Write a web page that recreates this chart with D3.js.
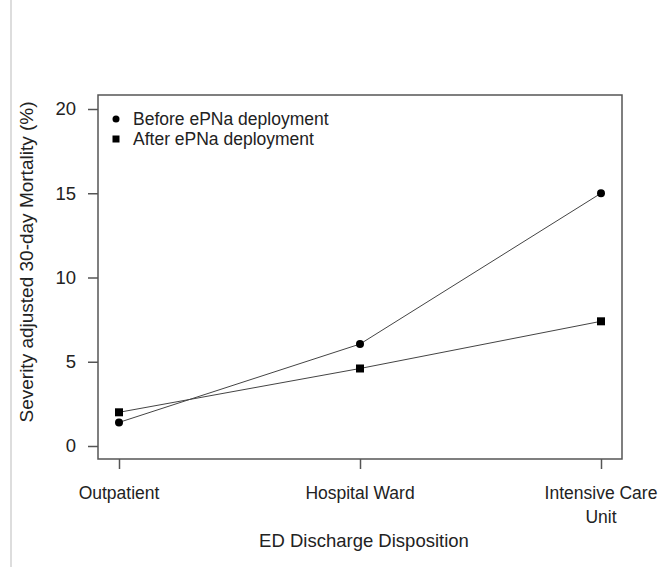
<!DOCTYPE html>
<html>
<head>
<meta charset="utf-8">
<script src="https://cdn.jsdelivr.net/npm/d3@7"></script>
<style>
  body { margin: 0; background: #fff; }
  text { font-family: "Liberation Sans", Arial, sans-serif; fill: #222; }
</style>
</head>
<body>
<svg width="658" height="567"></svg>
<script>
var categories = ["Outpatient", "Hospital Ward", "Intensive Care|Unit"]
var beforeValues = [1.4, 6.05, 15.0]
var afterValues = [2.0, 4.6, 7.4]
var yTicks = [0, 5, 10, 15, 20]
var legendLabels = ["Before ePNa deployment", "After ePNa deployment"]

var svg = d3.select('svg')

// faint edge line seen on the left of the picture
svg.append('line')
  .attr('x1', 11).attr('x2', 11).attr('y1', 0).attr('y2', 567)
  .attr('stroke', '#ddd').attr('stroke-width', 2)

var box = { left: 98, right: 622, top: 95, bottom: 459 }

var x = d3.scalePoint()
  .domain(categories)
  .range([119, 601])

var y = d3.scaleLinear()
  .domain([0, 20])
  .range([446, 109])

// plot frame
svg.append('rect')
  .attr('x', box.left).attr('y', box.top)
  .attr('width', box.right - box.left).attr('height', box.bottom - box.top)
  .attr('fill', 'none').attr('stroke', '#555').attr('stroke-width', 1.5)

// y axis
var yAxis = svg.append('g')
  .attr('transform', 'translate(' + box.left + ',0)')
  .call(d3.axisLeft(y).tickValues(yTicks).tickSize(10).tickPadding(12))
yAxis.select('.domain').remove()
yAxis.selectAll('line').attr('stroke', '#555').attr('stroke-width', 1.5)
yAxis.selectAll('text').attr('font-size', 18.5).attr('fill', '#333')
  .style('font-family', '"Liberation Sans", Arial, sans-serif')

// x axis
var xAxis = svg.append('g')
  .attr('transform', 'translate(0,' + box.bottom + ')')
  .call(d3.axisBottom(x).tickSize(10).tickPadding(0).tickFormat(''))
xAxis.select('.domain').remove()
xAxis.selectAll('line').attr('stroke', '#555').attr('stroke-width', 1.5)

categories.forEach(function(c) {
  var parts = c.split('|')
  var t = svg.append('text')
    .attr('x', x(c))
    .attr('y', 499)
    .attr('text-anchor', 'middle')
    .attr('font-size', 17.5)
    .attr('fill', '#333')
  parts.forEach(function(p, i) {
    t.append('tspan').attr('x', x(c)).attr('dy', i === 0 ? 0 : 24).text(p)
  })
})

svg.append('text')
  .attr('x', 364).attr('y', 547)
  .attr('text-anchor', 'middle')
  .attr('font-size', 18.5)
  .attr('fill', '#333')
  .text('ED Discharge Disposition')

svg.append('text')
  .attr('transform', 'translate(33,' + 262 + ') rotate(-90)')
  .attr('text-anchor', 'middle')
  .attr('font-size', 19)
  .attr('fill', '#333')
  .text('Severity adjusted 30-day Mortality (%)')

var line = d3.line()
  .x(function(d, i) { return x(categories[i]) })
  .y(function(d) { return y(d) })

svg.append('path').datum(beforeValues)
  .attr('d', line).attr('fill', 'none').attr('stroke', '#444').attr('stroke-width', 1)
svg.append('path').datum(afterValues)
  .attr('d', line).attr('fill', 'none').attr('stroke', '#444').attr('stroke-width', 1)

svg.selectAll('circle.before')
  .data(beforeValues)
  .enter()
  .append('circle')
  .attr('class', 'before')
  .attr('cx', function(d, i) { return x(categories[i]) })
  .attr('cy', function(d) { return y(d) })
  .attr('r', 4)
  .attr('fill', '#000')

svg.selectAll('rect.after')
  .data(afterValues)
  .enter()
  .append('rect')
  .attr('class', 'after')
  .attr('x', function(d, i) { return x(categories[i]) - 4 })
  .attr('y', function(d) { return y(d) - 4 })
  .attr('width', 8)
  .attr('height', 8)
  .attr('fill', '#000')

// legend
var legend = svg.append('g').attr('transform', 'translate(116,119)')
legend.append('circle').attr('cx', 0).attr('cy', 0).attr('r', 3.5).attr('fill', '#000')
legend.append('rect').attr('x', -3.5).attr('y', 16.5).attr('width', 7).attr('height', 7).attr('fill', '#000')
legendLabels.forEach(function(l, i) {
  legend.append('text')
    .attr('x', 17).attr('y', i * 20 + 6)
    .attr('font-size', 17.5)
    .attr('fill', '#222')
    .text(l)
})
</script>
</body>
</html>
